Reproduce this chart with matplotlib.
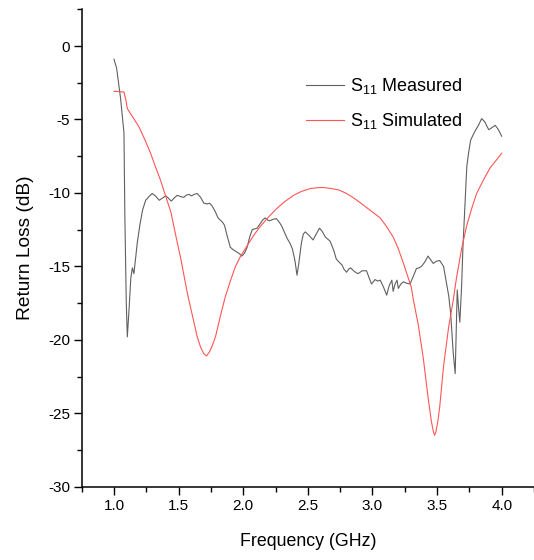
import matplotlib
matplotlib.use("Agg")
import matplotlib.pyplot as plt
from matplotlib.ticker import MultipleLocator

plt.rcParams['font.family'] = ['Liberation Sans', 'DejaVu Sans']
plt.rcParams['mathtext.default'] = 'regular'

# Measured S11 (GHz, dB)
meas_freq = [1.00, 1.02, 1.05, 1.077, 1.084, 1.095, 1.103, 1.116, 1.13, 1.142, 1.154, 1.17, 1.18, 1.20,
             1.22, 1.245, 1.27, 1.296, 1.32, 1.35, 1.375, 1.40, 1.42, 1.443, 1.465, 1.49, 1.515, 1.54,
             1.56, 1.58, 1.60, 1.62, 1.644, 1.67, 1.695, 1.72, 1.74, 1.76, 1.785, 1.805, 1.824, 1.84,
             1.855, 1.875, 1.90, 1.92, 1.94, 1.965, 1.99, 2.01, 2.03, 2.05, 2.07, 2.09, 2.107, 2.13,
             2.15, 2.17, 2.19, 2.205, 2.23, 2.256, 2.28, 2.30, 2.32, 2.34, 2.36, 2.38, 2.40, 2.416,
             2.43, 2.45, 2.465, 2.48, 2.51, 2.54, 2.565, 2.59, 2.61, 2.635, 2.655, 2.673, 2.70, 2.72,
             2.74, 2.764, 2.78, 2.80, 2.815, 2.83, 2.86, 2.888, 2.92, 2.954, 2.975, 2.993, 3.02, 3.04,
             3.06, 3.085, 3.11, 3.13, 3.15, 3.16, 3.175, 3.19, 3.20, 3.22, 3.24, 3.265, 3.29, 3.315,
             3.34, 3.36, 3.38, 3.405, 3.43, 3.45, 3.47, 3.495, 3.52, 3.535, 3.55, 3.57, 3.59, 3.605,
             3.615, 3.625, 3.635, 3.64, 3.648, 3.656, 3.666, 3.676, 3.683, 3.69, 3.70, 3.715, 3.73,
             3.745, 3.76, 3.79, 3.82, 3.845, 3.87, 3.885, 3.90, 3.925, 3.95, 3.975, 4.00]
meas_db = [-0.9, -1.5, -3.5, -5.9, -11.6, -17.5, -19.8, -18.0, -15.8, -15.1, -15.5, -14.2, -13.4, -12.2,
           -11.2, -10.5, -10.25, -10.04, -10.2, -10.5, -10.35, -10.2, -10.35, -10.56, -10.35, -10.16, -10.25, -10.3,
           -10.15, -10.1, -10.2, -10.1, -10.04, -10.3, -10.7, -10.75, -10.7, -10.9, -11.3, -11.7, -11.86, -12.0,
           -12.2, -12.9, -13.7, -13.85, -13.97, -14.1, -14.3, -14.1, -13.7, -13.0, -12.5, -12.45, -12.4, -12.1,
           -11.85, -11.7, -11.85, -11.9, -11.8, -11.75, -12.0, -12.3, -12.7, -13.1, -13.4, -13.8, -14.6, -15.6,
           -14.8, -13.4, -12.8, -12.65, -12.9, -13.2, -12.8, -12.4, -12.6, -13.0, -13.15, -13.3, -13.9, -14.5,
           -14.7, -14.9, -15.2, -15.4, -15.2, -15.1, -15.35, -15.5, -15.3, -15.3, -15.8, -16.2, -15.9, -16.0,
           -15.94, -16.4, -16.96, -16.3, -15.94, -16.7, -16.2, -15.94, -16.5, -16.2, -16.05, -16.15, -16.2, -15.7,
           -15.15, -15.1, -15.0, -14.7, -14.3, -14.55, -14.8, -14.65, -14.6, -14.8, -15.0, -16.0, -17.0, -18.2,
           -19.6, -20.9, -21.8, -22.3, -19.5, -16.6, -17.8, -18.8, -17.5, -16.3, -13.7, -10.9, -8.2,
           -7.2, -6.4, -5.85, -5.4, -4.94, -5.17, -5.45, -5.7, -5.55, -5.4, -5.7, -6.14]

# Simulated S11 (GHz, dB)
sim_freq = [1.00, 1.077, 1.09, 1.103, 1.15, 1.193, 1.24, 1.283, 1.32, 1.36, 1.41, 1.44, 1.49, 1.515,
            1.567, 1.59, 1.644, 1.67, 1.695, 1.716, 1.74, 1.76, 1.785, 1.82, 1.86, 1.90, 1.94, 1.98,
            2.03, 2.08, 2.13, 2.20, 2.26, 2.32, 2.39, 2.45, 2.52, 2.57, 2.62, 2.68, 2.74, 2.79, 2.83,
            2.88, 2.94, 3.00, 3.06, 3.11, 3.16, 3.20, 3.24, 3.27, 3.30, 3.317, 3.355, 3.394, 3.43,
            3.455, 3.47, 3.48, 3.49, 3.505, 3.52, 3.55, 3.59, 3.625, 3.65, 3.69, 3.73, 3.77, 3.806,
            3.86, 3.91, 3.96, 4.00]
sim_db = [-3.08, -3.13, -3.6, -4.26, -4.9, -5.5, -6.4, -7.3, -8.2, -9.14, -10.5, -11.3, -13.4, -14.4,
          -16.8, -17.7, -19.8, -20.5, -20.95, -21.1, -20.8, -20.4, -19.8, -18.5, -17.1, -16.0, -15.0, -14.3,
          -13.6, -12.9, -12.3, -11.6, -11.06, -10.6, -10.16, -9.9, -9.7, -9.65, -9.63, -9.7, -9.8, -10.0, -10.2,
          -10.5, -10.9, -11.3, -11.7, -12.3, -13.0, -13.8, -14.8, -15.6, -16.4, -17.3, -19.0, -21.3, -23.9,
          -25.5, -26.2, -26.5, -26.3, -25.6, -24.6, -21.8, -19.1, -17.3, -15.8, -13.8, -12.2, -11.0, -10.04,
          -9.1, -8.3, -7.75, -7.3]

x_ticks = [1.0, 1.5, 2.0, 2.5, 3.0, 3.5, 4.0]
y_ticks = [0, -5, -10, -15, -20, -25, -30]

W, H = 534, 560
fig = plt.figure(figsize=(W / 100, H / 100), dpi=100)
ax = fig.add_axes([81.7 / W, 1 - 486.7 / H, (W - 81.7) / W, (486.7 - 9.3) / H])

ax.plot(meas_freq, meas_db, color='#606060', lw=0.8, label='S$_{11}$ Measured')
ax.plot(sim_freq, sim_db, color='#ff5555', lw=0.8, label='S$_{11}$ Simulated')

ax.set_xlim(0.75, 4.25)
ax.set_ylim(-30, 2.5)
ax.set_xticks(x_ticks)
ax.set_xticklabels([f"{v:.1f}" for v in x_ticks])
ax.set_yticks(y_ticks)
ax.set_yticklabels([f"{v}" for v in y_ticks])
ax.xaxis.set_minor_locator(MultipleLocator(0.25))
ax.yaxis.set_minor_locator(MultipleLocator(2.5))

for s in ('top', 'right'):
    ax.spines[s].set_visible(False)
for s in ('left', 'bottom'):
    ax.spines[s].set_linewidth(1.1)
    ax.spines[s].set_color('black')
ax.tick_params(which='major', direction='out', length=5.5, width=1.0, labelsize=11, pad=3)
ax.tick_params(which='minor', direction='out', length=3.5, width=1.0)

ax.set_xlabel('Frequency (GHz)', fontsize=12.8, labelpad=15)
ax.set_ylabel('Return Loss (dB)', fontsize=13.8, labelpad=10)

leg = ax.legend(loc='upper left', bbox_to_anchor=(306 / W, 1 - 76 / H),
                bbox_transform=fig.transFigure, frameon=False, fontsize=13,
                handlelength=2.1, handletextpad=0.35, labelspacing=0.85, borderpad=0,
                borderaxespad=0)

fig.savefig('out.png', dpi=100)
